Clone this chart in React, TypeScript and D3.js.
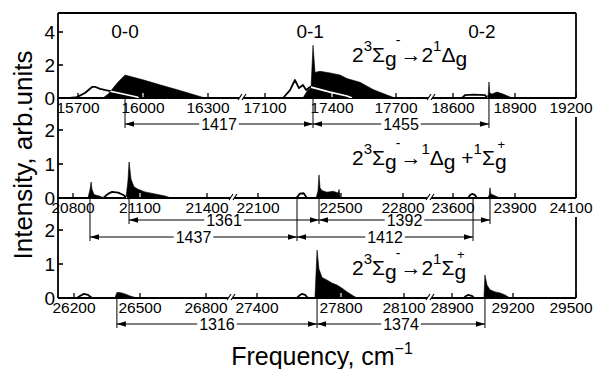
import React from "react";
import * as d3 from "d3";

const W = 594;
const H = 369;
const FONT = "'Liberation Sans', Arial, Helvetica, sans-serif";

// ---- tick labels (cm^-1), one list per axis segment ----
const ticksP1 = [[15700, 16000, 16300], [17100, 17400, 17700], [18600, 18900, 19200]];
const ticksP2 = [[20800, 21100, 21400], [22100, 22500, 22800], [23600, 23900, 24100]];
const ticksP3 = [[26200, 26500, 26800], [27400, 27800, 28100], [28900, 29200, 29500]];
const yTicksP1 = [0, 2, 4];
const yTicksP2 = [0, 1, 2];
const yTicksP3 = [0, 1, 2];

// ---- filled (black) spectra: [frequency, intensity] ----
const fillP1 = [
  [[15815, 0], [15840, 0.25], [15862, 0.6], [15885, 0.97], [15917, 1.39], [16000, 1.1], [16078, 0.8], [16171, 0.45], [16240, 0.18], [16286, 0]],
  [[17270, 0], [17290, 0.45], [17306, 0.6], [17315, 3.2], [17324, 1.55], [17346, 1.62], [17391, 1.52], [17438, 1.39], [17470, 1.18], [17531, 0.95], [17592, 0.52], [17658, 0.18], [17695, 0]],
  [[18765, 0], [18771, 0.25], [18774, 0.97], [18778, 0.3], [18789, 0.24], [18813, 0.36], [18842, 0.24], [18876, 0.06], [18885, 0]],
];
const fillP2 = [
  [[20867, 0], [20876, 0.24], [20881, 0.47], [20885, 0.26], [20894, 0.1], [20921, 0.05], [20939, 0]],
  [[21037, 0], [21046, 0.5], [21051, 1.06], [21060, 0.55], [21073, 0.33], [21091, 0.26], [21122, 0.18], [21167, 0.12], [21212, 0.06], [21239, 0]],
  [[22380, 0], [22389, 0.2], [22394, 0.68], [22399, 0.3], [22408, 0.22], [22433, 0.17], [22461, 0.2], [22486, 0.15], [22491, 0.25], [22496, 0]],
  [[23769, 0], [23776, 0.1], [23779, 0.3], [23783, 0.12], [23808, 0.05], [23827, 0]],
];
const fillP3 = [
  [[26386, 0], [26395, 0.16], [26409, 0.16], [26432, 0.12], [26455, 0.06], [26486, 0]],
  [[27676, 0], [27686, 1.41], [27695, 0.85], [27710, 0.6], [27733, 0.53], [27757, 0.44], [27781, 0.38], [27805, 0.29], [27829, 0.18], [27852, 0.09], [27876, 0]],
  [[29057, 0], [29062, 0.68], [29072, 0.38], [29087, 0.24], [29112, 0.18], [29136, 0.15], [29161, 0.09], [29185, 0]],
];

// ---- outlined (open) spectra ----
const lineP1 = [
  [[15663, 0], [15695, 0.05], [15732, 0.3], [15765, 0.67], [15778, 0.68], [15802, 0.55], [15972, 0.06], [15980, 0]],
  [[17181, 0], [17212, 0.48], [17234, 1.09], [17252, 0.6], [17270, 0.79], [17284, 0.48], [17302, 0.67], [17391, 0.36], [17470, 0.12], [17494, 0]],
  [[18644, 0], [18658, 0.18], [18700, 0.2], [18755, 0.18], [18765, 0]],
];
const lineP2 = [
  [[20935, 0], [20957, 0.12], [20975, 0.18], [21002, 0.16], [21028, 0.08], [21040, 0]],
  [[22285, 0], [22302, 0.13], [22320, 0.14], [22336, 0]],
  [[23673, 0], [23683, 0.09], [23692, 0.12], [23706, 0.09], [23716, 0]],
];
const lineP3 = [
  [[26214, 0], [26227, 0.06], [26245, 0.12], [26264, 0.09], [26282, 0]],
  [[27590, 0], [27605, 0.09], [27614, 0.12], [27629, 0.09], [27643, 0]],
  [[28959, 0], [28969, 0.06], [28979, 0.09], [28998, 0.06], [29008, 0]],
];

// ---- vibrational band labels (panel 1) ----
const bandLabels = ["0-0", "0-1", "0-2"];
const bandLabelFreq = [15917, 17302, 18740];

// ---- interval annotations: [from, to, label, row] ----
const dimsP1: [number, number, string, number][] = [
  [15917, 17315, "1417", 0],
  [17315, 18774, "1455", 0],
];
const dimsP2: [number, number, string, number][] = [
  [21051, 22394, "1361", 0],
  [22394, 23779, "1392", 0],
  [20876, 22288, "1437", 1],
  [22288, 23697, "1412", 1],
];
const dimsP3: [number, number, string, number][] = [
  [26395, 27686, "1316", 0],
  [27686, 29062, "1374", 0],
];

// ---- transition titles: [text, kind] ----
const titleP1 = [["2", "n"], ["3", "sup"], ["Σ", "n"], ["g", "sub"], ["-", "after"], ["→", "n"], ["2", "n"], ["1", "sup"], ["Δ", "n"], ["g", "sub"]];
const titleP2 = [["2", "n"], ["3", "sup"], ["Σ", "n"], ["g", "sub"], ["-", "after"], ["→", "n"], ["1", "sup"], ["Δ", "n"], ["g", "sub"], [" +", "n"], ["1", "sup"], ["Σ", "n"], ["g", "sub"], ["+", "over"]];
const titleP3 = [["2", "n"], ["3", "sup"], ["Σ", "n"], ["g", "sub"], ["-", "after"], ["→", "n"], ["2", "n"], ["1", "sup"], ["Σ", "n"], ["g", "sub"], ["+", "over"]];

const yTitle = "Intensity, arb.units";
const xTitle = "Frequency, cm";
const xTitleSup = "−1";

// ---- layout ----
const LEFT = 58;
const RIGHT = 576;
const TOP = 13;
const layout = [
  { base: 98, top: 13, unit: 16.5, px: [[78, 143, 208], [265, 332, 396], [453, 515, 576]], breaks: [243, 432], rows: [124], titleY: 62 },
  { base: 198, top: 117, unit: 34, px: [[73, 140, 207], [258, 341, 403], [453, 515, 576]], breaks: [234, 431], rows: [220, 237], titleY: 165 },
  { base: 298, top: 217, unit: 34, px: [[74, 140, 206], [257, 341, 404], [452, 513, 576]], breaks: [232, 431], rows: [324], titleY: 275 },
];

const panels = [
  { ticks: ticksP1, yTicks: yTicksP1, fills: fillP1, lines: lineP1, dims: dimsP1, title: titleP1 },
  { ticks: ticksP2, yTicks: yTicksP2, fills: fillP2, lines: lineP2, dims: dimsP2, title: titleP2 },
  { ticks: ticksP3, yTicks: yTicksP3, fills: fillP3, lines: lineP3, dims: dimsP3, title: titleP3 },
];

function Title({ pieces, y }: { pieces: string[][]; y: number }) {
  return (
    <text x={352} y={y} fontSize={21} fill="#000">
      {pieces.map(([t, k], i) => {
        if (k === "sup") return <tspan key={i} y={y - 11} fontSize={15}>{t}</tspan>;
        if (k === "sub") return <tspan key={i} y={y + 4} fontSize={21}>{t}</tspan>;
        if (k === "after") return <tspan key={i} y={y - 17} dx={-1} fontSize={14}>{t}</tspan>;
        if (k === "over") return <tspan key={i} y={y - 16} dx={-9} fontSize={13}>{t}</tspan>;
        return <tspan key={i} y={y}>{t}</tspan>;
      })}
    </text>
  );
}

function Panel({ p, lay, idx }: any) {
  const xs = p.ticks.map((t: number[], i: number) => d3.scaleLinear().domain(t).range(lay.px[i]));
  const segOf = (f: number) => {
    let best = 0;
    let bd = Infinity;
    p.ticks.forEach((t: number[], i: number) => {
      const d = f < t[0] ? t[0] - f : f > t[2] ? f - t[2] : 0;
      if (d < bd) { bd = d; best = i; }
    });
    return best;
  };
  const X = (f: number) => xs[segOf(f)](f);
  const y = d3.scaleLinear().domain([0, 1]).range([lay.base, lay.base - lay.unit]);
  const area = d3.area<number[]>().x((d) => X(d[0])).y0(lay.base).y1((d) => y(d[1]));
  const line = d3.line<number[]>().x((d) => X(d[0])).y((d) => y(d[1]));
  const clipId = `fillclip-${idx}`;

  // vertical reference lines for annotations
  const vmap = new Map<number, number>();
  p.dims.forEach((d: any) => {
    const ry = lay.rows[d[3]];
    [d[0], d[1]].forEach((f: number) => vmap.set(f, Math.max(vmap.get(f) ?? 0, ry)));
  });

  const tickXs: { v: number; x: number }[] = [];
  p.ticks.forEach((t: number[], i: number) => t.forEach((v) => tickXs.push({ v, x: xs[i](v) })));

  return (
    <g>
      <defs>
        <clipPath id={clipId}>
          {p.fills.map((s: number[][], i: number) => <path key={i} d={area(s) || ""} />)}
        </clipPath>
      </defs>
      {/* open curves */}
      {p.lines.map((s: number[][], i: number) => (
        <path key={i} d={line(s) || ""} fill="none" stroke="#000" strokeWidth={1.8} strokeLinejoin="round" />
      ))}
      {/* filled spectra */}
      {p.fills.map((s: number[][], i: number) => (
        <path key={i} d={area(s) || ""} fill="#000" stroke="#000" strokeWidth={0.6} strokeLinejoin="round" />
      ))}
      {/* baseline */}
      <line x1={LEFT} x2={RIGHT} y1={lay.base} y2={lay.base} stroke="#000" strokeWidth={1.8} />
      {/* x ticks */}
      {tickXs.map((t, i) => (
        <line key={i} x1={t.x} x2={t.x} y1={lay.base} y2={lay.base - 5} stroke="#000" strokeWidth={1.3} />
      ))}
      {/* white parts inside black fills */}
      <g clipPath={`url(#${clipId})`}>
        {p.lines.map((s: number[][], i: number) => (
          <path key={i} d={line(s) || ""} fill="none" stroke="#fff" strokeWidth={1.7} strokeLinejoin="round" />
        ))}
        {tickXs.map((t, i) => (
          <line key={i} x1={t.x} x2={t.x} y1={lay.base - 1} y2={lay.base - 5} stroke="#fff" strokeWidth={1.2} />
        ))}
      </g>
      {/* x tick labels */}
      {tickXs.map((t, i) => (
        <text key={i} x={Math.min(t.x, 571)} y={lay.base + 14.5} fontSize={15.5} textAnchor="middle" fill="#000">
          {t.v}
        </text>
      ))}
      {/* axis breaks */}
      {lay.breaks.map((bx: number, i: number) => (
        <g key={i}>
          <polygon points={`${bx - 5},${lay.base + 2} ${bx - 1},${lay.base + 2} ${bx + 3},${lay.base - 4} ${bx - 1},${lay.base - 4}`} fill="#fff" />
          <line x1={bx - 5} y1={lay.base + 2} x2={bx - 1} y2={lay.base - 4} stroke="#000" strokeWidth={1.1} />
          <line x1={bx - 1} y1={lay.base + 2} x2={bx + 3} y2={lay.base - 4} stroke="#000" strokeWidth={1.1} />
        </g>
      ))}
      {/* y ticks */}
      {p.yTicks.map((v: number, i: number) => (
        <g key={i}>
          <line x1={LEFT} x2={LEFT + 5} y1={y(v)} y2={y(v)} stroke="#000" strokeWidth={1.6} />
          <text x={55} y={y(v) + 6.6} fontSize={19} textAnchor="end" fill="#000">{v}</text>
        </g>
      ))}
      {/* right border */}
      <line x1={RIGHT} x2={RIGHT} y1={lay.top} y2={lay.base} stroke="#000" strokeWidth={1.8} />
      {/* annotation verticals */}
      {[...vmap.entries()].map(([f, ry], i) => (
        <line key={i} x1={X(f)} x2={X(f)} y1={lay.base} y2={ry + 4} stroke="#000" strokeWidth={1} />
      ))}
      {/* annotation arrows */}
      {p.dims.map((d: any, i: number) => {
        const x1 = X(d[0]);
        const x2 = X(d[1]);
        const ry = lay.rows[d[3]];
        const cx = (x1 + x2) / 2;
        const tw = d[2].length * 8.9 + 4;
        return (
          <g key={i}>
            <line x1={x1} x2={x2} y1={ry} y2={ry} stroke="#000" strokeWidth={1.1} />
            <polygon points={`${x1},${ry} ${x1 + 9},${ry - 2.8} ${x1 + 9},${ry + 2.8}`} fill="#000" />
            <polygon points={`${x2},${ry} ${x2 - 9},${ry - 2.8} ${x2 - 9},${ry + 2.8}`} fill="#000" />
            <rect x={cx - tw / 2} y={ry - 6} width={tw} height={12} fill="#fff" />
            <text x={cx} y={ry + 5.8} fontSize={16} textAnchor="middle" fill="#000">{d[2]}</text>
          </g>
        );
      })}
      <Title pieces={p.title} y={lay.titleY} />
      {idx === 0 &&
        bandLabels.map((b, i) => (
          <text key={i} x={X(bandLabelFreq[i])} y={38} fontSize={19} textAnchor="middle" fill="#000">{b}</text>
        ))}
    </g>
  );
}

export default function App() {
  return (
    <svg
      width={W}
      height={H}
      viewBox={`0 0 ${W} ${H}`}
      style={{ position: "absolute", left: 0, top: 0, display: "block" }}
      fontFamily={FONT}
    >
      <rect x={0} y={0} width={W} height={H} fill="#fff" />
      {panels.map((p, i) => (
        <Panel key={i} p={p} lay={layout[i]} idx={i} />
      ))}
      <line x1={LEFT} x2={RIGHT} y1={TOP} y2={TOP} stroke="#000" strokeWidth={1.8} />
      <line x1={LEFT} x2={LEFT} y1={TOP} y2={layout[2].base} stroke="#000" strokeWidth={1.8} />
      <text transform={`translate(32,155) rotate(-90)`} fontSize={26} textAnchor="middle" fill="#000">
        {yTitle}
      </text>
      <text x={322} y={365} fontSize={25} textAnchor="middle" fill="#000">
        {xTitle}
        <tspan dy={-11} fontSize={16}>{xTitleSup}</tspan>
      </text>
    </svg>
  );
}
